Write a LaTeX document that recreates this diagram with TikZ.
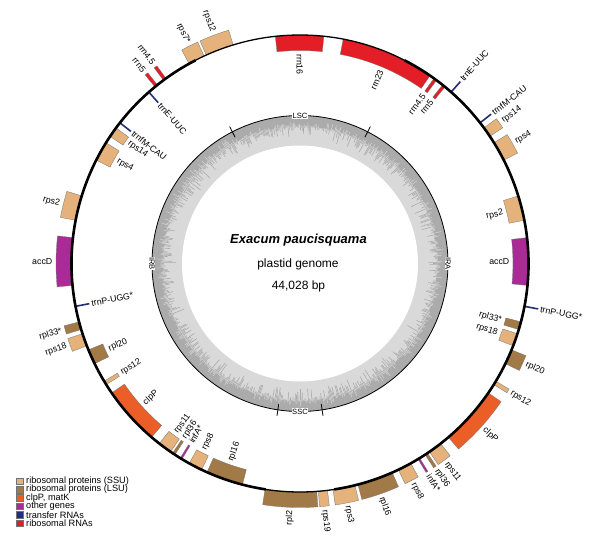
\documentclass[tikz,border=0pt]{standalone}
\usepackage{fontspec}
\setmainfont{Liberation Sans}
\usepackage{xcolor}
\definecolor{ssu}{HTML}{E4B27A}
\definecolor{lsu}{HTML}{A27A48}
\definecolor{clp}{HTML}{EC5E28}
\definecolor{oth}{HTML}{AA2A96}
\definecolor{trna}{HTML}{232D78}
\definecolor{rrna}{HTML}{E31E26}
\definecolor{gcdark}{HTML}{ABABAB}
\definecolor{gclight}{HTML}{D9D9D9}

\begin{document}
\begin{tikzpicture}[x=1pt,y=1pt,
  genebox/.style={draw=black!55,line width=0.3pt},
  genelabel/.style={font=\fontsize{8.8}{9}\selectfont,inner sep=0pt},
  regionlabel/.style={font=\fontsize{7.6}{8}\selectfont,fill=white,inner sep=0.6pt},
  legendtext/.style={font=\fontsize{9.2}{10}\selectfont,inner sep=0pt,anchor=west}]
\useasboundingbox (-300,-278.5) rectangle (300,263.5);

% GC ring
\fill[gclight] (0,0) circle (148);
\fill[white] (0,0) circle (118);
\fill[gcdark,even odd rule] (0,0) circle (148) (0,0) circle (137);
\pgfmathsetseed{17}
\foreach \a in {0,0.5,...,359.5} {
  \pgfmathsetmacro\ri{137-14*rnd*rnd}
  \draw[gcdark,line width=0.6pt] (\a:137.5) -- (\a:\ri);
}
\foreach \a in {0.25,0.75,...,359.75} {
  \pgfmathsetmacro\ro{137+8*rnd*rnd}
  \draw[gclight,line width=0.45pt] (\a:136.5) -- (\a:\ro);
}
\draw[line width=0.8pt] (0,0) circle (148);
\foreach \a in {62.8,117.2,261.4,278.6} \draw[line width=0.8pt] (\a:142) -- (\a:154);
\node[regionlabel] (lsc) at (90:148) {LSC};
\node[regionlabel] (ssc) at (270:148) {SSC};
\node[regionlabel,rotate=-90] (ira) at (0:148) {IRA};
\node[regionlabel,rotate=-90] (irb) at (180:148) {IRB};

% centre
\node[font=\fontsize{13}{15}\selectfont\bfseries\itshape] (species) at (-1.5,23.5) {Exacum paucisquama};
\node[font=\fontsize{12}{14}\selectfont] (kind) at (-2,-0.5) {plastid genome};
\node[font=\fontsize{12}{14}\selectfont] (size) at (-1.5,-23.2) {44,028 bp};

% genes: start/end/strand (1 out, -1 in)/colour/name
\foreach \a/\b/\s/\c/\t [count=\i] in {
  55.3/79.1/-1/rrna/rrn23, 84/96.2/-1/rrna/rrn16,
  107/114.2/1/ssu/rps12, 114.8/119/1/ssu/rps7*,
  125.9/126.7/1/rrna/rrn4.5, 128.6/129.4/1/rrna/rrn5,
  143.6/146.2/-1/ssu/rps14, 148.1/153.1/-1/ssu/rps4,
  162.8/169.1/1/ssu/rps2, 173.5/185.5/1/oth/accD,
  194.8/196.8/1/lsu/rpl33*, 197.9/201.1/1/ssu/rps18,
  202.2/206/-1/lsu/rpl20, 211/212/-1/ssu/rps12,
  214.5/229.5/-1/clp/clpP, 232/235.5/-1/ssu/rps11,
  236.1/236.8/-1/lsu/rpl36, 238.4/238.9/-1/oth/infA*,
  241/244.5/-1/ssu/rps8, 246/255.4/-1/lsu/rpl16,
  261.2/274.2/1/lsu/rpl2, 274.6/276.9/1/ssu/rps19,
  278.3/283.9/1/ssu/rps3, 284.7/293.8/1/lsu/rpl16,
  295.5/299/1/ssu/rps8, 301.1/301.6/1/oth/infA*,
  303.2/303.9/1/lsu/rpl36, 304.5/308/1/ssu/rps11,
  310.5/325.5/1/clp/clpP, 328/329/1/ssu/rps12,
  334/337.8/1/lsu/rpl20, 338.9/342.1/-1/ssu/rps18,
  343.2/345.2/-1/lsu/rpl33*, 354.5/366.5/-1/oth/accD,
  10.9/17.2/-1/ssu/rps2, 26.9/31.9/1/ssu/rps4,
  33.8/36.4/1/ssu/rps14, 50.6/51.4/-1/rrna/rrn5,
  53.3/54.1/-1/rrna/rrn4.5}
{
  \pgfmathsetmacro\rr{228.5+15.5*\s}
  \fill[\c,genebox] (\a:228.5) arc[start angle=\a,end angle=\b,radius=228.5]
    -- (\b:\rr) arc[start angle=\b,end angle=\a,radius=\rr] -- cycle;
  \pgfmathsetmacro\m{(\a+\b)/2}
  \pgfmathsetmacro\rl{228.5+19*\s}
  \pgfmathsetmacro\rot{cos(\m)>0 ? \m : \m+180}
  \pgfmathtruncatemacro\p{(cos(\m)>0 ? 1 : -1)*\s}
  \ifnum\p>0 \def\anc{west}\else\def\anc{east}\fi
  \node[genelabel,rotate=\rot,anchor=\anc] (g\i) at (\m:\rl) {\t};
}

% transfer RNAs
\foreach \a/\s/\t [count=\i] in {48.6/1/trnE-UUC, 38/1/trnfM-CAU, 349.2/1/trnP-UGG*,
  131.4/-1/trnE-UUC, 142/-1/trnfM-CAU, 190.8/-1/trnP-UGG*}
{
  \draw[trna,line width=1.6pt] (\a:228.5) -- (\a:{228.5+14*\s});
  \pgfmathsetmacro\rl{228.5+16*\s}
  \pgfmathsetmacro\rot{cos(\a)>0 ? \a : \a+180}
  \pgfmathtruncatemacro\p{(cos(\a)>0 ? 1 : -1)*\s}
  \ifnum\p>0 \def\anc{west}\else\def\anc{east}\fi
  \node[genelabel,rotate=\rot,anchor=\anc] (t\i) at (\a:\rl) {\t};
}

% genome circle, inverted repeats thicker
\draw[line width=1.3pt] (0,0) circle (228.5);
\draw[line width=2.6pt] (62.8:228.5) arc[start angle=62.8,end angle=-81.4,radius=228.5];
\draw[line width=2.6pt] (117.2:228.5) arc[start angle=117.2,end angle=261.4,radius=228.5];

% legend
\foreach \c/\t [count=\i] in {ssu/ribosomal proteins (SSU), lsu/ribosomal proteins (LSU),
  clp/{clpP, matK}, oth/other genes, trna/transfer RNAs, rrna/ribosomal RNAs}
{
  \filldraw[fill=\c,draw=black!55,line width=0.4pt] (-283.3,{-217.5-8.45*(\i-1)-3.3}) rectangle +(6.6,6.6);
  \node[legendtext] (key\i) at (-274,{-217.5-8.45*(\i-1)}) {\t};
}

\end{tikzpicture}
\end{document}
